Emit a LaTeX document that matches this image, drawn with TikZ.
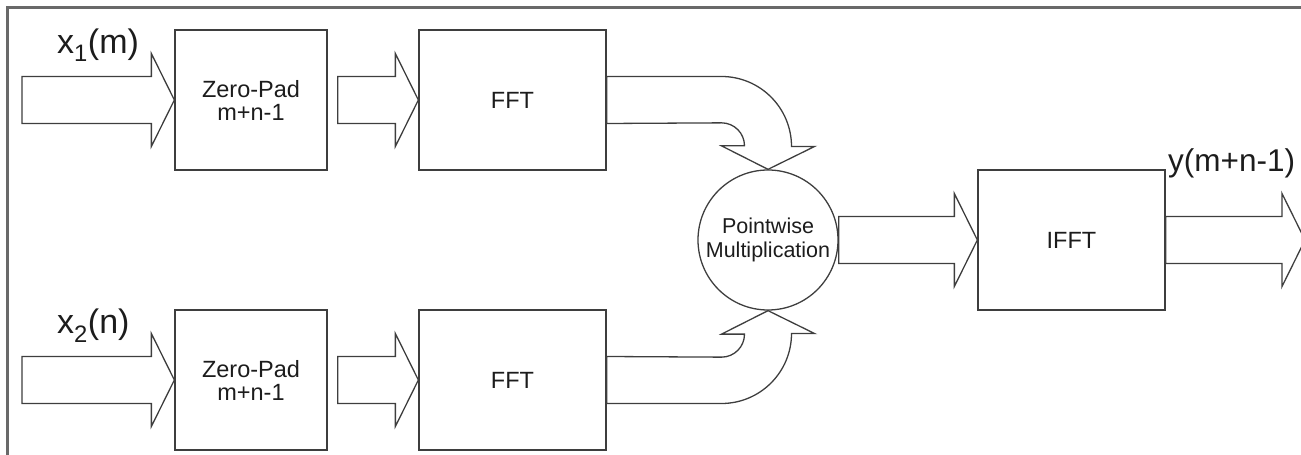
\documentclass[tikz,border=0pt]{standalone}
\usepackage{fontspec}
\setmainfont{Liberation Sans}
\usetikzlibrary{calc}

\definecolor{linegray}{RGB}{62,62,62}
\definecolor{framegray}{RGB}{105,105,105}
\definecolor{textgray}{RGB}{28,28,28}

\tikzset{
    stage/.style={draw=linegray, line width=1.3pt, minimum width=#1, minimum height=140pt,
        inner sep=0pt, align=center, text=textgray, font=\fontsize{23.5}{23}\selectfont},
    stage/.default=187pt,
    joiner/.style={circle, draw=linegray, line width=1.3pt, minimum size=140pt, inner sep=0pt,
        align=center, text=textgray, font=\fontsize{21.5}{24}\selectfont},
    flow/.style={draw=linegray, line width=1.3pt, line join=miter},
    signal/.style={anchor=base west, inner sep=0pt, text=textgray, font=\fontsize{34}{34}\selectfont},
    frame/.style={draw=framegray, line width=2.2pt}
}

%% block arrow: straight shaft from #1 with its tip on #2
\newcommand{\fatarrow}[2]{%
    \draw[flow] let \p1=#1, \p2=#2 in
        (\x1,\y1+23.5pt) -- (\x2-23pt,\y1+23.5pt) -- (\x2-23pt,\y1+46.5pt) -- (\x2,\y2)
        -- (\x2-23pt,\y1-46.5pt) -- (\x2-23pt,\y1-23.5pt) -- (\x1,\y1-23.5pt) -- cycle;}

\begin{document}
\begin{tikzpicture}[x=1pt,y=1pt]
        \useasboundingbox (0,0) rectangle (1301,455);
        %% frame (only top and left edges fall inside)
        \draw[frame] (7.5,-20) -- (7.5,447.5) -- (1320,447.5);
        %% stages
        \node[stage=152pt] (zp1) at (251,355) {Zero-Pad\\m+n-1};
        \node[stage] (fft1) at (512.5,355) {FFT};
        \node[stage=152pt] (zp2) at (251,75) {Zero-Pad\\m+n-1};
        \node[stage] (fft2) at (512.5,75) {FFT};
        \node[joiner] (mult) at (768,215) {Pointwise\\Multiplication};
        \node[stage] (ifft) at (1071.5,215) {IFFT};
        %% free ends
        \coordinate (in1) at (22,355);
        \coordinate (in2) at (22,75);
        \coordinate (zp1out) at ($(zp1.east)+(10,0)$);
        \coordinate (zp2out) at ($(zp2.east)+(10,0)$);
        \coordinate (out) at (1305,215);
        %% straight arrows
        \fatarrow{(in1)}{(zp1.west)}
        \fatarrow{(in2)}{(zp2.west)}
        \fatarrow{(zp1out)}{(fft1.west)}
        \fatarrow{(zp2out)}{(fft2.west)}
        \fatarrow{(mult.east)}{(ifft.west)}
        \fatarrow{(ifft.east)}{(out)}
        %% bent arrows into the multiplier
        \draw[flow] let \p1=(fft1.east), \p2=(mult.north) in
            (\x1,\y1+23.5pt) -- (\x2-46.5pt,\y1+23.5pt) arc[start angle=90,end angle=0,radius=70pt]
            -- ++(23,0) -- (\p2) -- (\x2-46.5pt,\y2+23.5pt) -- ++(23,0)
            arc[start angle=0,end angle=90,radius=23pt] -- (\x1,\y1-23.5pt) -- cycle;
        \draw[flow] let \p1=(fft2.east), \p2=(mult.south) in
            (\x1,\y1-23.5pt) -- (\x2-46.5pt,\y1-23.5pt) arc[start angle=-90,end angle=0,radius=70pt]
            -- ++(23,0) -- (\p2) -- (\x2-46.5pt,\y2-23.5pt) -- ++(23,0)
            arc[start angle=0,end angle=-90,radius=23pt] -- (\x1,\y1+23.5pt) -- cycle;
        %% signal labels
        \node[signal] (lblx1) at (57,401) {x\textsubscript{1}(m)};
        \node[signal] (lblx2) at (57,121) {x\textsubscript{2}(n)};
        \node[signal, font=\fontsize{31.5}{32}\selectfont] (lbly) at (1168,283) {y(m+n-1)};
    \end{tikzpicture}
\end{document}
